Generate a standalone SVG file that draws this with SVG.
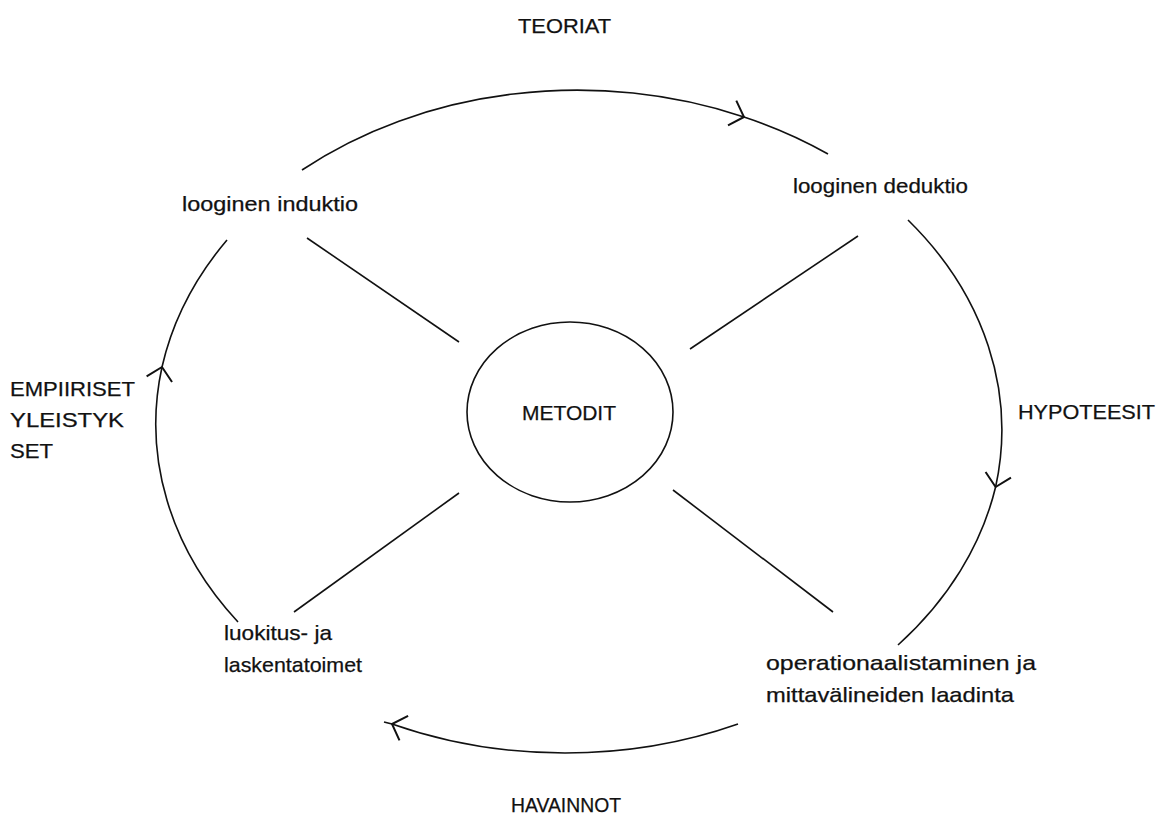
<svg xmlns="http://www.w3.org/2000/svg" width="1171" height="825" viewBox="0 0 1171 825">
<style>
.t{font-family:"Liberation Sans",Arial,sans-serif;font-size:21px;fill:#111;stroke:#111;stroke-width:0.25}
.c{fill:none;stroke:#111;stroke-width:1.6}
</style>
<defs>
<marker id="arr" markerUnits="userSpaceOnUse" viewBox="-16 -16 20 32" markerWidth="20" markerHeight="32" refX="0" refY="0" orient="auto">
<path d="M-12.5,-13 L0,0 L-12.5,13" fill="none" stroke="#111" stroke-width="2"/>
</marker>
</defs>
<rect width="1171" height="825" fill="#fff"/>
<g id="connectors">
<path class="c" d="M302,170 A425,335 0 0,1 744,117" marker-end="url(#arr)"/>
<path class="c" d="M744,117 A425,335 0 0,1 828,154"/>
<path class="c" d="M908,220 A425,335 0 0,1 995.6,487" marker-end="url(#arr)"/>
<path class="c" d="M995.6,487 A425,335 0 0,1 898,645"/>
<path class="c" d="M738,724 A425,335 0 0,1 392,724" marker-end="url(#arr)"/>
<path class="c" d="M392,724 A425,335 0 0,1 384,722"/>
<path class="c" d="M238,622 A425,335 0 0,1 162,367" marker-end="url(#arr)"/>
<path class="c" d="M162,367 A425,335 0 0,1 227,240"/>
<line class="c" x1="307" y1="238" x2="459" y2="342"/>
<line class="c" x1="858" y1="236" x2="690" y2="349"/>
<line class="c" x1="459" y1="493" x2="294" y2="612"/>
<line class="c" x1="673" y1="490" x2="833" y2="612"/>
</g>
<g id="metodit">
<ellipse class="c" cx="570" cy="412" rx="103" ry="90"/>
<text class="t" x="522" y="420" textLength="94" lengthAdjust="spacingAndGlyphs">METODIT</text>
</g>
<g id="teoriat"><text class="t" x="518" y="33" textLength="93" lengthAdjust="spacingAndGlyphs">TEORIAT</text></g>
<g id="induktio"><text class="t" x="182" y="211" textLength="176" lengthAdjust="spacingAndGlyphs">looginen induktio</text></g>
<g id="deduktio"><text class="t" x="793" y="193" textLength="175" lengthAdjust="spacingAndGlyphs">looginen deduktio</text></g>
<g id="hypoteesit"><text class="t" x="1018" y="419" textLength="137" lengthAdjust="spacingAndGlyphs">HYPOTEESIT</text></g>
<g id="empiiriset">
<text class="t" x="10" y="396" textLength="125" lengthAdjust="spacingAndGlyphs">EMPIIRISET</text>
<text class="t" x="10" y="427" textLength="114" lengthAdjust="spacingAndGlyphs">YLEISTYK</text>
<text class="t" x="10" y="458" textLength="43" lengthAdjust="spacingAndGlyphs">SET</text>
</g>
<g id="luokitus">
<text class="t" x="224" y="640" textLength="108" lengthAdjust="spacingAndGlyphs">luokitus- ja</text>
<text class="t" x="224" y="672" textLength="138" lengthAdjust="spacingAndGlyphs">laskentatoimet</text>
</g>
<g id="operationaalistaminen">
<text class="t" x="766" y="670" textLength="270" lengthAdjust="spacingAndGlyphs">operationaalistaminen ja</text>
<text class="t" x="766" y="702" textLength="248" lengthAdjust="spacingAndGlyphs">mittavälineiden laadinta</text>
</g>
<g id="havainnot"><text class="t" x="511" y="812" textLength="110" lengthAdjust="spacingAndGlyphs">HAVAINNOT</text></g>
</svg>
